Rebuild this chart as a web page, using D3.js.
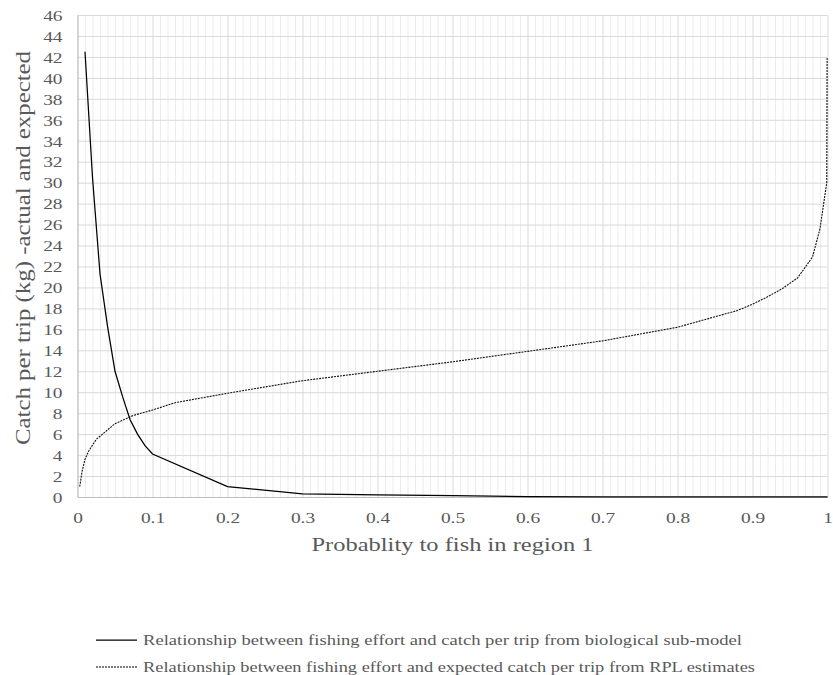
<!DOCTYPE html>
<html>
<head>
<meta charset="utf-8">
<script src="https://cdn.jsdelivr.net/npm/d3@7/dist/d3.min.js"></script>
<style>
  body { margin: 0; background: #ffffff; }
  svg text { font-family: "Liberation Serif", "Times New Roman", serif; fill: #595959; }
</style>
</head>
<body>
<svg id="chart" width="833" height="675"></svg>
<script>
// Probability of fishing in region 1 (x) and catch per trip in kg (y)
const probBio  = [0.01, 0.02, 0.03, 0.04, 0.05, 0.06, 0.07, 0.08, 0.09, 0.1, 0.2, 0.3, 0.4, 0.5, 0.6, 0.7, 0.8, 0.9, 1.0];
const catchBio = [42.5, 30.5, 21.3, 16.3, 12.0, 9.6, 7.4, 6.0, 4.9, 4.1, 1.0, 0.3, 0.2, 0.12, 0.04, 0.02, 0.01, 0.01, 0.01];

const probRpl  = [0.003, 0.006, 0.01, 0.015, 0.025, 0.05, 0.075, 0.1, 0.13, 0.2, 0.3, 0.4, 0.5, 0.6, 0.7, 0.8, 0.84, 0.88, 0.9, 0.92, 0.94, 0.96, 0.98, 0.99, 0.999, 0.9995];
const catchRpl = [1.0, 2.4, 3.6, 4.4, 5.5, 7.0, 7.8, 8.3, 9.0, 9.9, 11.1, 12.0, 12.9, 13.9, 14.9, 16.2, 17.0, 17.8, 18.4, 19.1, 19.9, 20.9, 22.9, 25.6, 30.0, 42.0];

const xTicks = [0, 0.1, 0.2, 0.3, 0.4, 0.5, 0.6, 0.7, 0.8, 0.9, 1];
const xMinorTicks = [0.01,0.02,0.03,0.04,0.05,0.06,0.07,0.08,0.09,
  0.11,0.12,0.13,0.14,0.15,0.16,0.17,0.18,0.19,0.21,0.22,0.23,0.24,0.25,0.26,0.27,0.28,0.29,
  0.31,0.32,0.33,0.34,0.35,0.36,0.37,0.38,0.39,0.41,0.42,0.43,0.44,0.45,0.46,0.47,0.48,0.49,
  0.51,0.52,0.53,0.54,0.55,0.56,0.57,0.58,0.59,0.61,0.62,0.63,0.64,0.65,0.66,0.67,0.68,0.69,
  0.71,0.72,0.73,0.74,0.75,0.76,0.77,0.78,0.79,0.81,0.82,0.83,0.84,0.85,0.86,0.87,0.88,0.89,
  0.91,0.92,0.93,0.94,0.95,0.96,0.97,0.98,0.99];
const yTicks = [0, 2, 4, 6, 8, 10, 12, 14, 16, 18, 20, 22, 24, 26, 28, 30, 32, 34, 36, 38, 40, 42, 44, 46];

const seriesNames = [
  "Relationship between fishing effort and catch per trip from biological sub-model",
  "Relationship between fishing effort and expected catch per trip from RPL estimates"
];
const xTitle = "Probablity to fish in region 1";
const yTitle = "Catch per trip (kg) -actual and expected";

const svg = d3.select("#chart");
const plotLeft = 77.5, plotRight = 827.5, plotTop = 15, plotBottom = 497;

const x = d3.scaleLinear().domain([0, 1]).range([plotLeft, plotRight]);
const y = d3.scaleLinear().domain([0, 46]).range([plotBottom, plotTop]);

// widen glyphs along the text direction
function stretch(sel, factor, target) {
  sel.each(function () {
    const len = target || this.getComputedTextLength() * factor;
    d3.select(this).attr("textLength", len).attr("lengthAdjust", "spacingAndGlyphs");
  });
}

// minor vertical grid
svg.append("g")
  .attr("transform", `translate(0,${plotBottom})`)
  .call(d3.axisBottom(x).tickValues(xMinorTicks).tickSize(-(plotBottom - plotTop)).tickFormat(""))
  .call(g => g.select(".domain").remove())
  .call(g => g.selectAll("line").attr("stroke", "#ececec").attr("stroke-width", 1));

// major vertical grid
svg.append("g")
  .attr("transform", `translate(0,${plotBottom})`)
  .call(d3.axisBottom(x).tickValues(xTicks).tickSize(-(plotBottom - plotTop)).tickFormat(""))
  .call(g => g.select(".domain").remove())
  .call(g => g.selectAll("line").attr("stroke", "#d9d9d9").attr("stroke-width", 1));

// horizontal grid
svg.append("g")
  .attr("transform", `translate(${plotLeft},0)`)
  .call(d3.axisLeft(y).tickValues(yTicks).tickSize(-(plotRight - plotLeft)).tickFormat(""))
  .call(g => g.select(".domain").remove())
  .call(g => g.selectAll("line").attr("stroke", "#d9d9d9").attr("stroke-width", 1));

// axes
const yAxis = svg.append("g")
  .attr("transform", `translate(${plotLeft},0)`)
  .call(d3.axisLeft(y).tickValues(yTicks).tickSize(0).tickPadding(15).tickFormat(d3.format("d")));
yAxis.select(".domain").attr("stroke", "#bfbfbf");
yAxis.selectAll("text").attr("font-size", 15.5).attr("fill", "#595959").attr("dy", "0.34em")
  .call(stretch, 1.25);

const xAxis = svg.append("g")
  .attr("transform", `translate(0,${plotBottom})`)
  .call(d3.axisBottom(x).tickValues(xTicks).tickSize(0).tickPadding(20).tickFormat(d => d3.format("")(d)));
xAxis.select(".domain").attr("stroke", "#bfbfbf");
xAxis.selectAll("text").attr("font-size", 15.5).attr("fill", "#595959").attr("dy", "0.4em")
  .call(stretch, 1.25);

// axis titles
svg.append("text")
  .attr("x", (plotLeft + plotRight) / 2).attr("y", 551)
  .attr("text-anchor", "middle").attr("font-size", 18.5)
  .text(xTitle).call(stretch, 1.25, 282);

svg.append("text")
  .attr("transform", `translate(30,248) rotate(-90)`)
  .attr("text-anchor", "middle").attr("font-size", 20.5)
  .text(yTitle).call(stretch, 1.25, 394);

// series
const line = d3.line().x(d => x(d[0])).y(d => y(d[1]));
const bio = d3.zip(probBio, catchBio);
const rpl = d3.zip(probRpl, catchRpl);

svg.append("path").datum(bio)
  .attr("d", line).attr("fill", "none")
  .attr("stroke", "#000000").attr("stroke-width", 1.25);

svg.append("path").datum(rpl)
  .attr("d", line).attr("fill", "none")
  .attr("stroke", "#111111").attr("stroke-width", 1.1)
  .attr("stroke-dasharray", "2,1");

// legend
const legendY = [640, 667];
const legendLen = [599, 612];
const legend = svg.append("g");
seriesNames.forEach((name, i) => {
  legend.append("line")
    .attr("x1", 96).attr("x2", 137)
    .attr("y1", legendY[i]).attr("y2", legendY[i])
    .attr("stroke", "#000").attr("stroke-width", i === 0 ? 1.25 : 1.1)
    .attr("stroke-dasharray", i === 0 ? null : "2,1");
  legend.append("text")
    .attr("x", 143).attr("y", legendY[i] + 5)
    .attr("font-size", 15.5)
    .text(name).call(stretch, 1.2, legendLen[i]);
});
</script>
</body>
</html>
